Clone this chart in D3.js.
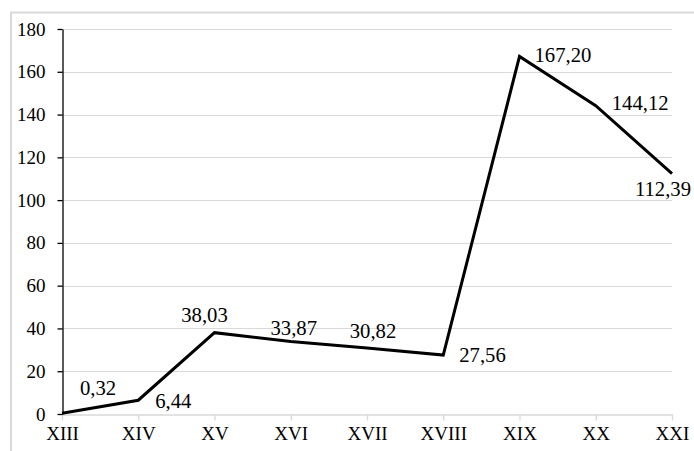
<!DOCTYPE html>
<html>
<head>
<meta charset="utf-8">
<script src="https://cdn.jsdelivr.net/npm/d3@7"></script>
<style>
  html, body { margin: 0; padding: 0; background: #fff; }
  svg { display: block; }
</style>
</head>
<body>
<svg id="chart" width="694" height="451"></svg>
<script>
// Centuries and values
const centuries = ["XIII", "XIV", "XV", "XVI", "XVII", "XVIII", "XIX", "XX", "XXI"];
const values = [0.32, 6.44, 38.03, 33.87, 30.82, 27.56, 167.20, 144.12, 112.39];
const yTicks = [0, 20, 40, 60, 80, 100, 120, 140, 160, 180];

// Label offsets relative to each point (dx, dy, anchor)
const labelPlacement = [
  [36, -18, "middle"],
  [17, 8, "start"],
  [-10, -11, "middle"],
  [3, -7, "middle"],
  [6, -10, "middle"],
  [16, 7, "start"],
  [15, 6, "start"],
  [16, 4, "start"],
  [-9, 22, "middle"]
];

const FONT = "Liberation Serif";
const AXIS_FONT_SIZE = 19;
const LABEL_FONT_SIZE = 20.7;

const svg = d3.select("#chart");
const W = 694, H = 451;
const margin = { left: 62, right: 22, top: 29, bottom: 37 };

// Outer chart frame
svg.append("rect")
  .attr("x", 11).attr("y", 12.5)
  .attr("width", 700).attr("height", 500)
  .attr("fill", "none")
  .attr("stroke", "#d9d9d9")
  .attr("stroke-width", 2);

const x = d3.scalePoint()
  .domain(centuries)
  .range([margin.left, W - margin.right]);

const y = d3.scaleLinear()
  .domain([0, 180])
  .range([H - margin.bottom, margin.top]);

// Horizontal gridlines
svg.append("g")
  .selectAll("line")
  .data(yTicks.filter(d => d > 0))
  .join("line")
  .attr("x1", margin.left).attr("x2", W - margin.right)
  .attr("y1", d => Math.round(y(d)) + 0.5)
  .attr("y2", d => Math.round(y(d)) + 0.5)
  .attr("stroke", "#d9d9d9")
  .attr("stroke-width", 1);

// X axis (gray baseline with downward ticks)
const xAxis = svg.append("g")
  .attr("transform", `translate(0,${Math.round(y(0)) + 0.5})`)
  .call(d3.axisBottom(x).tickSize(6).tickPadding(6).tickSizeOuter(0))
  .attr("font-family", FONT)
  .attr("font-size", AXIS_FONT_SIZE);
xAxis.select(".domain").attr("stroke", "#d9d9d9").attr("stroke-width", 1.3);
xAxis.selectAll(".tick line").attr("stroke", "#d9d9d9").attr("stroke-width", 1.3);
xAxis.selectAll(".tick text").attr("fill", "#000");

// Y axis (black line with ticks to the left)
const yAxis = svg.append("g")
  .attr("transform", `translate(${margin.left + 0.5},0)`)
  .call(d3.axisLeft(y).tickValues(yTicks).tickSize(5).tickPadding(12).tickSizeOuter(0))
  .attr("font-family", FONT)
  .attr("font-size", AXIS_FONT_SIZE);
yAxis.select(".domain").attr("stroke", "#000").attr("stroke-width", 1.3);
yAxis.selectAll(".tick line").attr("stroke", "#000").attr("stroke-width", 1.3);
yAxis.selectAll(".tick text").attr("fill", "#000");

// Data line
const line = d3.line()
  .x((d, i) => x(centuries[i]))
  .y(d => y(d));

svg.append("path")
  .datum(values)
  .attr("d", line)
  .attr("fill", "none")
  .attr("stroke", "#000")
  .attr("stroke-width", 3)
  .attr("stroke-linejoin", "miter");

// Value labels with comma decimal separator
const fmt = d => d.toFixed(2).replace(".", ",");
svg.append("g")
  .attr("font-family", FONT)
  .attr("font-size", LABEL_FONT_SIZE)
  .selectAll("text")
  .data(values)
  .join("text")
  .attr("x", (d, i) => x(centuries[i]) + labelPlacement[i][0])
  .attr("y", (d, i) => y(d) + labelPlacement[i][1])
  .attr("text-anchor", (d, i) => labelPlacement[i][2])
  .attr("fill", "#000")
  .text(fmt);
</script>
</body>
</html>
